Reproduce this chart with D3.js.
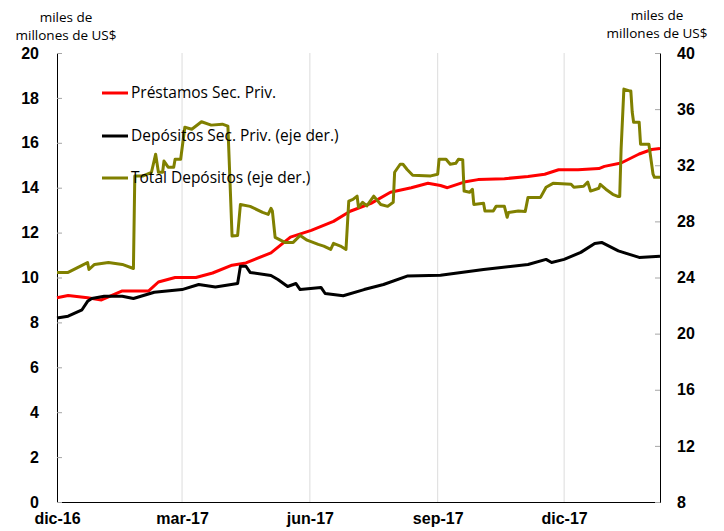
<!DOCTYPE html>
<meta charset="utf-8">
<style>
	body { margin: 0; background: #fff; }
	svg { font-family: "Open Sans", sans-serif; }
	.axis text { font-weight: bold; font-size: 16px; fill: #000; }
	.axis .tick line { stroke: #a6a6a6; }
	.axis path { stroke: #000; }
	.grid line { stroke: #dcdcdc; }
	.titulo { font-size: 13.5px; fill: #000; }
	.leyenda text { font-size: 15.5px; fill: #000; }
</style>
<svg width="724" height="531" class="graph"></svg>
<script src="https://d3js.org/d3.v7.min.js"></script>
<script>
	// eje izquierdo: miles de millones de US$
	var prestamos = [
		["2016-12-01", 9.1], ["2016-12-09", 9.2], ["2016-12-23", 9.1], ["2017-01-02", 9.0],
		["2017-01-17", 9.4], ["2017-02-05", 9.4], ["2017-02-12", 9.8], ["2017-02-24", 10.0],
		["2017-03-11", 10.0], ["2017-03-23", 10.2], ["2017-04-06", 10.55], ["2017-04-16", 10.65],
		["2017-05-04", 11.1], ["2017-05-18", 11.8], ["2017-06-02", 12.1], ["2017-06-18", 12.5],
		["2017-06-30", 12.95], ["2017-07-15", 13.3], ["2017-07-29", 13.8], ["2017-08-13", 14.0],
		["2017-08-25", 14.2], ["2017-09-03", 14.1], ["2017-09-08", 14.0], ["2017-09-20", 14.25],
		["2017-09-30", 14.36], ["2017-10-19", 14.4], ["2017-11-05", 14.5], ["2017-11-17", 14.6],
		["2017-11-27", 14.8], ["2017-12-11", 14.8], ["2017-12-26", 14.85], ["2017-12-30", 14.95],
		["2018-01-11", 15.1], ["2018-01-24", 15.5], ["2018-02-02", 15.7], ["2018-02-08", 15.75]
	];
	// eje derecho
	var depositos = [
		["2016-12-01", 21.12], ["2016-12-09", 21.24], ["2016-12-19", 21.7], ["2016-12-23", 22.3],
		["2016-12-26", 22.5], ["2017-01-04", 22.67], ["2017-01-17", 22.67], ["2017-01-25", 22.5],
		["2017-02-09", 22.95], ["2017-03-01", 23.14], ["2017-03-13", 23.5], ["2017-03-25", 23.33],
		["2017-04-10", 23.57], ["2017-04-12", 24.8], ["2017-04-16", 24.8], ["2017-04-19", 24.36],
		["2017-05-04", 24.14], ["2017-05-09", 23.86], ["2017-05-16", 23.36], ["2017-05-22", 23.57],
		["2017-05-25", 23.14], ["2017-06-09", 23.29], ["2017-06-12", 22.86], ["2017-06-25", 22.7],
		["2017-07-10", 23.14], ["2017-07-24", 23.5], ["2017-08-10", 24.1], ["2017-09-03", 24.16],
		["2017-10-04", 24.57], ["2017-11-05", 24.93], ["2017-11-18", 25.29], ["2017-11-22", 25.07],
		["2017-12-01", 25.29], ["2017-12-13", 25.79], ["2017-12-23", 26.43], ["2017-12-28", 26.5],
		["2018-01-09", 25.9], ["2018-01-24", 25.43], ["2018-02-08", 25.52]
	];
	var totalDepositos = [
		["2016-12-01", 24.36], ["2016-12-09", 24.36], ["2016-12-19", 24.86], ["2016-12-23", 25.07],
		["2016-12-24", 24.57], ["2016-12-28", 24.93], ["2017-01-07", 25.07], ["2017-01-17", 24.93],
		["2017-01-25", 24.64], ["2017-01-26", 31.24], ["2017-02-01", 31.24], ["2017-02-07", 31.5],
		["2017-02-10", 32.79], ["2017-02-12", 31.5], ["2017-02-15", 31.5], ["2017-02-16", 32.3],
		["2017-02-19", 31.86], ["2017-02-23", 31.86], ["2017-02-24", 32.43], ["2017-02-28", 32.43],
		["2017-03-03", 34.71], ["2017-03-08", 34.57], ["2017-03-15", 35.1], ["2017-03-22", 34.86],
		["2017-03-30", 34.93], ["2017-04-03", 34.79], ["2017-04-06", 26.95], ["2017-04-10", 27.0],
		["2017-04-12", 29.2], ["2017-04-19", 29.07], ["2017-04-28", 28.64], ["2017-05-02", 28.5],
		["2017-05-04", 28.93], ["2017-05-05", 28.75], ["2017-05-07", 26.86], ["2017-05-14", 26.5],
		["2017-05-20", 26.5], ["2017-05-25", 27.0], ["2017-05-30", 26.66], ["2017-06-07", 26.36],
		["2017-06-11", 26.24], ["2017-06-16", 26.0], ["2017-06-18", 26.43], ["2017-06-23", 26.24],
		["2017-06-27", 26.0], ["2017-06-29", 29.45], ["2017-07-02", 29.57], ["2017-07-05", 29.8],
		["2017-07-06", 29.0], ["2017-07-09", 29.36], ["2017-07-12", 29.1], ["2017-07-17", 29.8],
		["2017-07-22", 29.2], ["2017-07-27", 29.07], ["2017-07-31", 29.36], ["2017-08-01", 31.5],
		["2017-08-05", 32.07], ["2017-08-07", 32.07], ["2017-08-10", 31.7], ["2017-08-14", 31.29],
		["2017-08-27", 31.24], ["2017-09-01", 31.36], ["2017-09-02", 32.43], ["2017-09-07", 32.43],
		["2017-09-10", 32.07], ["2017-09-14", 32.14], ["2017-09-16", 32.43], ["2017-09-19", 32.4],
		["2017-09-20", 30.16], ["2017-09-24", 30.07], ["2017-09-26", 30.29], ["2017-09-27", 29.21],
		["2017-10-04", 29.29], ["2017-10-05", 28.74], ["2017-10-11", 28.74], ["2017-10-13", 29.07],
		["2017-10-19", 29.07], ["2017-10-21", 28.29], ["2017-10-22", 28.64], ["2017-10-29", 28.74],
		["2017-11-03", 28.7], ["2017-11-05", 29.71], ["2017-11-14", 29.71], ["2017-11-18", 30.43],
		["2017-11-23", 30.71], ["2017-12-06", 30.64], ["2017-12-08", 30.43], ["2017-12-15", 30.5],
		["2017-12-18", 30.8], ["2017-12-20", 30.16], ["2017-12-26", 30.36], ["2017-12-27", 30.64],
		["2017-12-31", 30.29], ["2018-01-05", 29.93], ["2018-01-09", 29.77], ["2018-01-10", 29.77],
		["2018-01-11", 33.14], ["2018-01-13", 37.43], ["2018-01-17", 37.3], ["2018-01-18", 37.3],
		["2018-01-19", 35.79], ["2018-01-20", 35.07], ["2018-01-24", 35.07], ["2018-01-25", 33.5],
		["2018-01-31", 33.5], ["2018-02-03", 31.36], ["2018-02-04", 31.14], ["2018-02-08", 31.14]
	];

	var fechasTicks = ["2016-12-01", "2017-03-01", "2017-06-01", "2017-09-01", "2017-12-01"];
	var etiquetasTicks = ["dic-16", "mar-17", "jun-17", "sep-17", "dic-17"];
	var ticksIzq = [0, 2, 4, 6, 8, 10, 12, 14, 16, 18, 20];
	var ticksDer = [8, 12, 16, 20, 24, 28, 32, 36, 40];
	var series = [
		{nombre: "Préstamos Sec. Priv.", datos: prestamos, color: "#ff0000", eje: "izq"},
		{nombre: "Depósitos Sec. Priv. (eje der.)", datos: depositos, color: "#000000", eje: "der"},
		{nombre: "Total Depósitos (eje der.)", datos: totalDepositos, color: "#808000", eje: "der"}
	];

	var parseDate = d3.timeParse("%Y-%m-%d");

	var svg = d3.select("svg"),
		margin = {top: 53, right: 64, bottom: 29, left: 57},
		width = +svg.attr("width") - margin.left - margin.right,
		height = +svg.attr("height") - margin.top - margin.bottom;

	var x = d3.scaleTime()
		.domain([parseDate("2016-12-01"), parseDate("2018-02-08")])
		.range([0, width]);
	var yIzq = d3.scaleLinear().domain([0, 20]).range([height, 0]);
	var yDer = d3.scaleLinear().domain([8, 40]).range([height, 0]);

	var g = svg.append("g")
		.attr("transform", "translate(" + margin.left + "," + margin.top + ")");

	// lineas verticales de la grilla
	g.append("g")
		.attr("class", "grid")
		.selectAll("line")
		.data(fechasTicks.slice(1))
		.enter().append("line")
		.attr("x1", function(d) { return x(parseDate(d)); })
		.attr("x2", function(d) { return x(parseDate(d)); })
		.attr("y1", 0)
		.attr("y2", height);

	g.append("g")
		.attr("class", "axis axis--x")
		.attr("transform", "translate(0," + height + ")")
		.call(d3.axisBottom(x)
			.tickValues(fechasTicks.map(parseDate))
			.tickFormat(function(d, i) { return etiquetasTicks[i]; })
			.tickSize(0)
			.tickSizeOuter(0)
			.tickPadding(11));

	g.append("g")
		.attr("class", "axis axis--y")
		.call(d3.axisLeft(yIzq).tickValues(ticksIzq).tickSize(-5).tickSizeOuter(0).tickPadding(18));

	g.append("g")
		.attr("class", "axis axis--y2")
		.attr("transform", "translate(" + width + ",0)")
		.call(d3.axisRight(yDer).tickValues(ticksDer).tickSize(-5).tickSizeOuter(0).tickPadding(17));

	var line = d3.line()
		.x(function(d) { return x(parseDate(d[0])); });

	series.forEach(function(s) {
		var y = s.eje === "izq" ? yIzq : yDer;
		g.append("path")
			.datum(s.datos)
			.attr("fill", "none")
			.attr("stroke", s.color)
			.attr("stroke-width", 3)
			.attr("stroke-linejoin", "round")
			.attr("d", line.y(function(d) { return y(d[1]); }));
	});

	// titulos de ejes
	[["miles de", 17], ["millones de US$", 35]].forEach(function(t) {
		svg.append("text").attr("class", "titulo").attr("x", 66).attr("y", t[1])
			.attr("text-anchor", "middle").attr("dy", "0.35em").text(t[0]);
		svg.append("text").attr("class", "titulo").attr("x", 657).attr("y", t[1] - 2)
			.attr("text-anchor", "middle").attr("dy", "0.35em").text(t[0]);
	});

	var leyenda = svg.append("g").attr("class", "leyenda")
		.selectAll("g")
		.data(series)
		.enter().append("g")
		.attr("transform", function(d, i) { return "translate(102," + [93, 136, 178][i] + ")"; });
	leyenda.append("line")
		.attr("x1", 0).attr("x2", 26)
		.attr("stroke", function(d) { return d.color; })
		.attr("stroke-width", 3);
	leyenda.append("text")
		.attr("x", 29)
		.attr("dy", "0.35em")
		.text(function(d) { return d.nombre; });
</script>
